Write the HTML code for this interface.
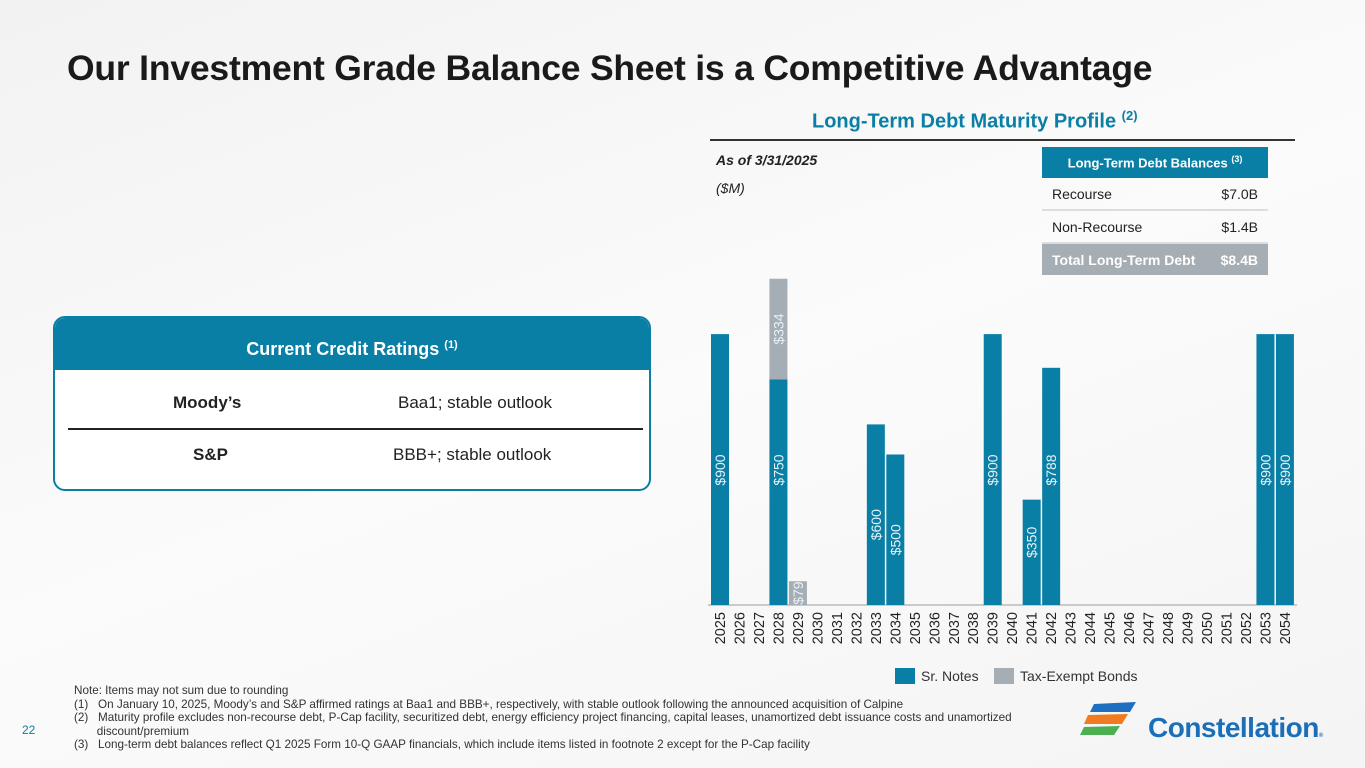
<!DOCTYPE html>
<html><head><meta charset="utf-8"><style>
body{margin:0;width:1365px;height:768px;overflow:hidden;background:linear-gradient(160deg,#f2f2f2 0%,#fbfbfb 50%,#f4f4f4 100%);font-family:"Liberation Sans",sans-serif;position:relative;color:#222}
.abs{position:absolute}
h1{position:absolute;left:67px;top:48px;margin:0;font-size:35.5px;font-weight:bold;color:#1a1a1a;letter-spacing:-0.2px}
.sub{left:812px;top:108px;font-size:20px;font-weight:bold;color:#0a7fa6}
.sub sup{font-size:13px}
table{border-collapse:collapse;font-size:14px}
td{height:31px;padding:0 10px;border-bottom:2px solid #ddd}
.fn{left:74px;top:684px;font-size:11.7px;line-height:13.5px;color:#333}
</style></head><body>
<h1>Our Investment Grade Balance Sheet is a Competitive Advantage</h1>
<div class="abs sub">Long-Term Debt Maturity Profile <sup>(2)</sup></div>
<div class="abs" style="left:710px;top:139px;width:585px;height:2px;background:#333"></div>
<div class="abs" style="left:716px;top:152px;font-size:14px;font-weight:bold;font-style:italic">As of 3/31/2025</div>
<div class="abs" style="left:716px;top:180px;font-size:14px;font-style:italic">($M)</div>
<table class="abs" style="left:1042px;top:147px;width:226px">
<tr><td colspan="2" style="background:#0a7fa6;color:#fff;font-weight:bold;text-align:center;font-size:13px;border:none">Long-Term Debt Balances <sup style="font-size:9px">(3)</sup></td></tr>
<tr><td>Recourse</td><td style="text-align:right">$7.0B</td></tr>
<tr><td>Non-Recourse</td><td style="text-align:right">$1.4B</td></tr>
<tr style="background:#a5adb5;color:#fff;font-weight:bold"><td style="border:none">Total Long-Term Debt</td><td style="text-align:right;border:none">$8.4B</td></tr>
</table>
<div class="abs" style="left:53px;top:316px;width:594px;height:171px;border:2px solid #0a7fa6;border-radius:12px;background:#fff;overflow:hidden">
<div style="height:52px;background:#0a7fa6;color:#fff;font-weight:bold;font-size:18px;text-align:center;line-height:54px">Current Credit Ratings <sup style="font-size:11px">(1)</sup></div>
<div style="position:absolute;left:13px;top:110px;width:575px;height:2px;background:#222"></div>
<div class="abs" style="left:118px;top:75px;font-size:17px;font-weight:bold">Moody’s</div>
<div class="abs" style="left:343px;top:75px;font-size:17px">Baa1; stable outlook</div>
<div class="abs" style="left:138px;top:127px;font-size:17px;font-weight:bold">S&amp;P</div>
<div class="abs" style="left:338px;top:127px;font-size:17px">BBB+; stable outlook</div>
</div>
<svg class="abs" style="left:0;top:0" width="1365" height="768" id="chart"></svg>
<div class="abs fn">Note: Items may not sum due to rounding<br>(1)&nbsp;&nbsp;&nbsp;On January 10, 2025, Moody’s and S&amp;P affirmed ratings at Baa1 and BBB+, respectively, with stable outlook following the announced acquisition of Calpine<br>(2)&nbsp;&nbsp;&nbsp;Maturity profile excludes non-recourse debt, P-Cap facility, securitized debt, energy efficiency project financing, capital leases, unamortized debt issuance costs and unamortized<br>&nbsp;&nbsp;&nbsp;&nbsp;&nbsp;&nbsp;&nbsp;discount/premium<br>(3)&nbsp;&nbsp;&nbsp;Long-term debt balances reflect Q1 2025 Form 10-Q GAAP financials, which include items listed in footnote 2 except for the P-Cap facility</div>
<div class="abs" style="left:22px;top:723px;font-size:12px;color:#0a7fa6">22</div>
<svg class="abs" style="left:1080px;top:700px" width="60" height="40">
<path d="M14 4 L56 2 L50 12 L10 12 Z" fill="#1f6fc0"/><path d="M8 15 L48 14 L42 24 L4 24 Z" fill="#f07b20"/><path d="M4 27 L40 26 L34 35 L0 35 Z" fill="#4caf50"/></svg>
<div class="abs" style="left:1148px;top:712px;font-size:28px;color:#1a6fb8;font-weight:bold;letter-spacing:-0.5px">Constellation<span style="font-size:6px">®</span></div>
<script>
const years=[];for(let y=2025;y<=2054;y++)years.push(y);
const srNotes=[900,0,0,750,0,0,0,0,600,500,0,0,0,0,900,0,350,788,0,0,0,0,0,0,0,0,0,0,900,900];
const taxExempt=[0,0,0,334,79,0,0,0,0,0,0,0,0,0,0,0,0,0,0,0,0,0,0,0,0,0,0,0,0,0];
const svg=document.getElementById('chart');const NS='http://www.w3.org/2000/svg';
const x0=711,step=19.48,bw=18,base=605,k=0.301;
const X=i=>x0+i*step, Y=v=>base-v*k;
function mk(t,a){const e=document.createElementNS(NS,t);for(const n in a)e.setAttribute(n,a[n]);svg.appendChild(e);return e;}
const ax=mk('line',{x1:708,x2:1297,y1:base,y2:base,stroke:'#bbb','stroke-width':1.5});

function label(cx,cy,txt){const t=mk('text',{x:0,y:0,transform:`translate(${cx+5},${cy}) rotate(-90)`,'text-anchor':'middle','font-size':14,fill:'#e8f2f7','font-family':'Liberation Sans'});t.textContent=txt;
}
years.forEach((yr,i)=>{
 const s=srNotes[i],g=taxExempt[i];
 if(s>0){const r=mk('rect',{x:X(i),y:Y(s),width:bw,height:s*k,fill:'#0a7fa6'});
  
  label(X(i)+bw/2,s>=700?470:(base-s*k/2+(s<450?-10:10)),'$'+s);}
 if(g>0){const r=mk('rect',{x:X(i),y:Y(s+g),width:bw,height:g*k,fill:'#a5adb5'});
  
  label(X(i)+bw/2,Y(s+g)+g*k/2,'$'+g);}
 const t=mk('text',{x:0,y:0,transform:`translate(${X(i)+bw/2+5},${612}) rotate(-90)`,'text-anchor':'end','font-size':14.5,fill:'#222','font-family':'Liberation Sans'});
 t.textContent=yr;
});
const l1=mk('rect',{x:895,y:668,width:20,height:16,fill:'#0a7fa6'});
const t1=mk('text',{x:921,y:681,'font-size':14,fill:'#333','font-family':'Liberation Sans'});t1.textContent='Sr. Notes';
const l2=mk('rect',{x:994,y:668,width:20,height:16,fill:'#a5adb5'});
const t2=mk('text',{x:1020,y:681,'font-size':14,fill:'#333','font-family':'Liberation Sans'});t2.textContent='Tax-Exempt Bonds';
</script>
</body></html>
